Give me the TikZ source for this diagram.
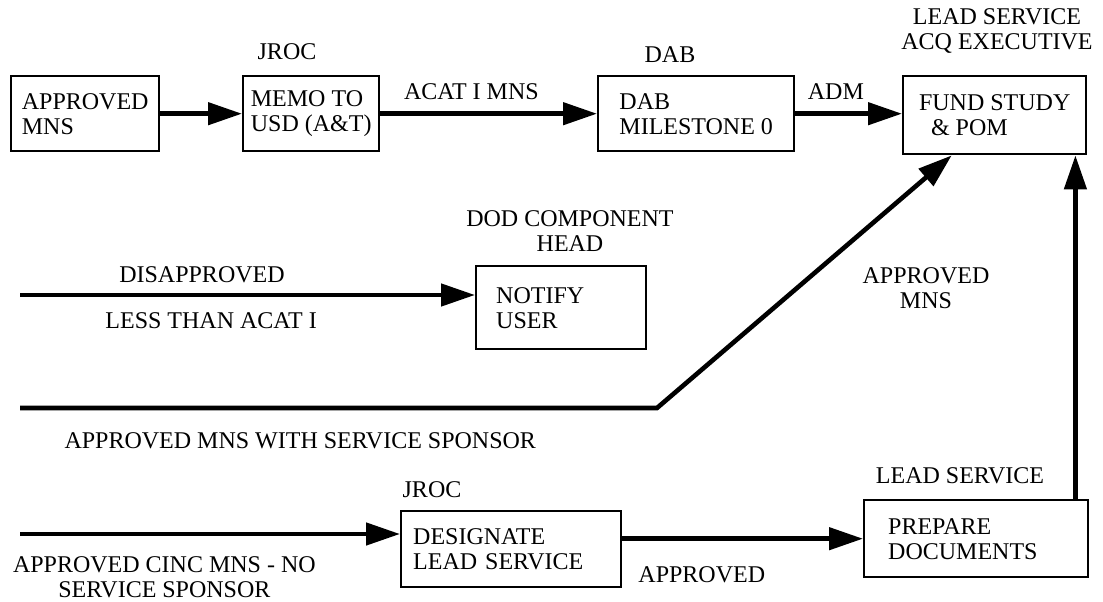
\documentclass[tikz,border=0pt]{standalone}
\usepackage{fontspec}
\setmainfont{Liberation Serif}
\usetikzlibrary{arrows.meta,positioning,calc}
\begin{document}
\begin{tikzpicture}[x=1pt,y=-1pt,>={Triangle[length=34pt,width=22pt]},font=\fontsize{24}{25}\selectfont]
    \tikzstyle{box}=[rectangle,draw,line width=2.4pt,anchor=north west,align=left,inner sep=0pt]
    \tikzstyle{flow}=[->,line width=4.6pt]
    \tikzstyle{lbl}=[align=center,inner sep=0pt]
    \useasboundingbox (0,0) rectangle (1103,602);
    % top row
    \node[box,minimum width=148pt,minimum height=75pt] (apprMns) at (10,75) {APPROVED\\MNS};
    \node[box,minimum width=136pt,minimum height=75pt] (memo) at (242,75) {MEMO TO\\USD (A\&T)};
    \node[box,minimum width=196pt,minimum height=75pt] (dab) at (597,75) {DAB\\MILESTONE 0};
    \node[box,minimum width=183pt,minimum height=78pt] (fund) at (902,75) {FUND STUDY\\\hspace*{12pt}\& POM};
    \node[lbl] (jrocTop) at (287,52) {JROC};
    \node[lbl] (dabHead) at (670,55) {DAB};
    \node[lbl] (acqExec) at (997,31) {LEAD SERVICE\\ACQ EXECUTIVE};
    \draw[flow] (apprMns) -- (memo);
    \draw[flow] (memo) -- node[lbl,above=12pt,pos=0.42]{ACAT I MNS} (dab);
    \draw[flow] (dab.east) -- node[lbl,above=12pt,pos=0.38]{ADM} (dab.east -| fund.west);
    % middle
    \node[box,minimum width=170pt,minimum height=83pt,text width=130pt] (notify) at (475,265) {NOTIFY\\USER};
    \node[lbl] (dodHead) at (570,231) {DOD COMPONENT\\HEAD};
    \coordinate (disIn) at (20,295);
    \draw[flow] (disIn) -- node[lbl,above=10pt,pos=0.4]{DISAPPROVED} node[lbl,below=15pt,pos=0.42]{LESS THAN ACAT I} (disIn -| notify.west);
    \coordinate (spIn) at (20,408);
    \coordinate (spBend) at (657,408);
    \draw[flow] (spIn) -- node[lbl,below=22pt,pos=0.44]{APPROVED MNS WITH SERVICE SPONSOR} (spBend) -- ($(fund.south)+(-43,0)$);
    % bottom
    \node[box,minimum width=220pt,minimum height=76pt,text width=196pt] (desig) at (400,510) {DESIGNATE\\LEAD SERVICE};
    \node[box,minimum width=224pt,minimum height=77pt,text width=176pt] (prep) at (863,499) {PREPARE\\DOCUMENTS};
    \node[lbl] (jrocLow) at (432,490) {JROC};
    \node[lbl] (leadSvc) at (960,476) {LEAD SERVICE};
    \node[lbl] (apprUp) at (926,288) {APPROVED\\MNS};
    \coordinate (cincIn) at (20,534);
    \draw[flow] (cincIn) -- node[lbl,below=20pt,pos=0.38]{APPROVED CINC MNS - NO\\SERVICE SPONSOR} (cincIn -| desig.west);
    \draw[flow] (desig.east |- prep.west) -- node[lbl,below=26pt,pos=0.33]{APPROVED} (prep.west);
    \draw[flow] ($(prep.north east)+(-14,0)$) coordinate (upFoot) -- (upFoot |- fund.south);
\end{tikzpicture}
\end{document}
